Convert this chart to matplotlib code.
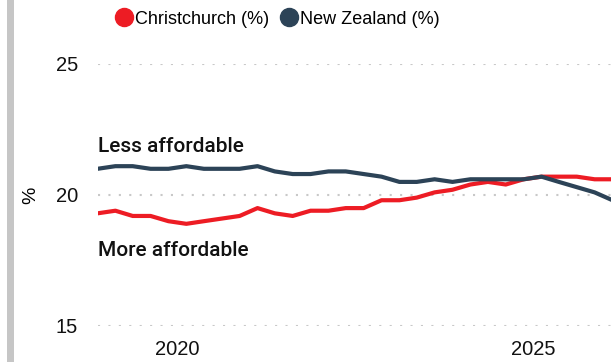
import numpy as np
import pandas as pd
import matplotlib as mpl
import matplotlib.pyplot as plt
import matplotlib.dates as mdates
from matplotlib.lines import Line2D
from matplotlib.patches import Rectangle

mpl.use('Agg')

# quarterly observations, Nov 2018 onwards
dates = pd.date_range("2018-11-01", periods=30, freq="3MS") + pd.Timedelta(days=14)

christchurch = [19.3, 19.4, 19.2, 19.2, 19.0, 18.9, 19.0, 19.1, 19.2, 19.5,
                19.3, 19.2, 19.4, 19.4, 19.5, 19.5, 19.8, 19.8, 19.9, 20.1,
                20.2, 20.4, 20.5, 20.4, 20.6, 20.7, 20.7, 20.7, 20.6, 20.6]
new_zealand = [21.0, 21.1, 21.1, 21.0, 21.0, 21.1, 21.0, 21.0, 21.0, 21.1,
               20.9, 20.8, 20.8, 20.9, 20.9, 20.8, 20.7, 20.5, 20.5, 20.6,
               20.5, 20.6, 20.6, 20.6, 20.6, 20.7, 20.5, 20.3, 20.1, 19.8]

series_labels = ["Christchurch (%)", "New Zealand (%)"]
yticks = [15, 20, 25]

RED = "#ED1C24"
NAVY = "#2C4357"
GRID = "#c8c8c8"

W, H = 611, 362
fig = plt.figure(figsize=(W / 100, H / 100), dpi=100)

# axes in pixel terms; right edge runs slightly past the figure like the original crop
left, right, top, bottom = 97.5, 612.5, 64, 326
ax = fig.add_axes([left / W, (H - bottom) / H, (right - left) / W, (bottom - top) / H])

ax.plot(dates, christchurch, color=RED, lw=3, solid_joinstyle="round", zorder=3)
ax.plot(dates, new_zealand, color=NAVY, lw=3, solid_joinstyle="round", zorder=4)

ax.set_xlim(dates[0], dates[-1])
ax.set_ylim(15, 25)
ax.set_yticks(yticks)
ax.xaxis.set_major_locator(mdates.YearLocator(5))
ax.xaxis.set_major_formatter(mdates.DateFormatter("%Y"))

for s in ax.spines.values():
    s.set_visible(False)
ax.grid(axis="y", color=GRID, linestyle=(0, (1, 4)), lw=1.5)
ax.tick_params(axis="both", length=0, labelsize=14.5, colors="#111111")
ax.tick_params(axis="y", pad=14)
ax.tick_params(axis="x", pad=10)
for lab in ax.get_xticklabels() + ax.get_yticklabels():
    lab.set_fontfamily("Liberation Sans")

ax.set_ylabel("%", fontsize=14, family="Liberation Sans", labelpad=12)

ax.text(dates[0], 21.65, "Less affordable", fontsize=15, family="Roboto",
        weight="medium", color="#111111", va="baseline", ha="left")
ax.text(dates[0], 17.67, "More affordable", fontsize=15, family="Roboto",
        weight="medium", color="#111111", va="baseline", ha="left")

handles = [Line2D([], [], ls="none", marker="o", markersize=13, color=RED),
           Line2D([], [], ls="none", marker="o", markersize=13, color=NAVY)]
fig.legend(handles, series_labels, loc="center", bbox_to_anchor=(277 / W, 1 - 19 / H),
           ncol=2, frameon=False, handlelength=1.0, handletextpad=0.1,
           columnspacing=0.6, borderpad=0,
           prop={"family": "Liberation Sans", "size": 13})

# grey bar down the left edge
fig.add_artist(Rectangle((7.5 / W, 0), 6.5 / W, 1, transform=fig.transFigure,
                         color="#c6c6c6", lw=0))

fig.savefig("out.png", dpi=100)
